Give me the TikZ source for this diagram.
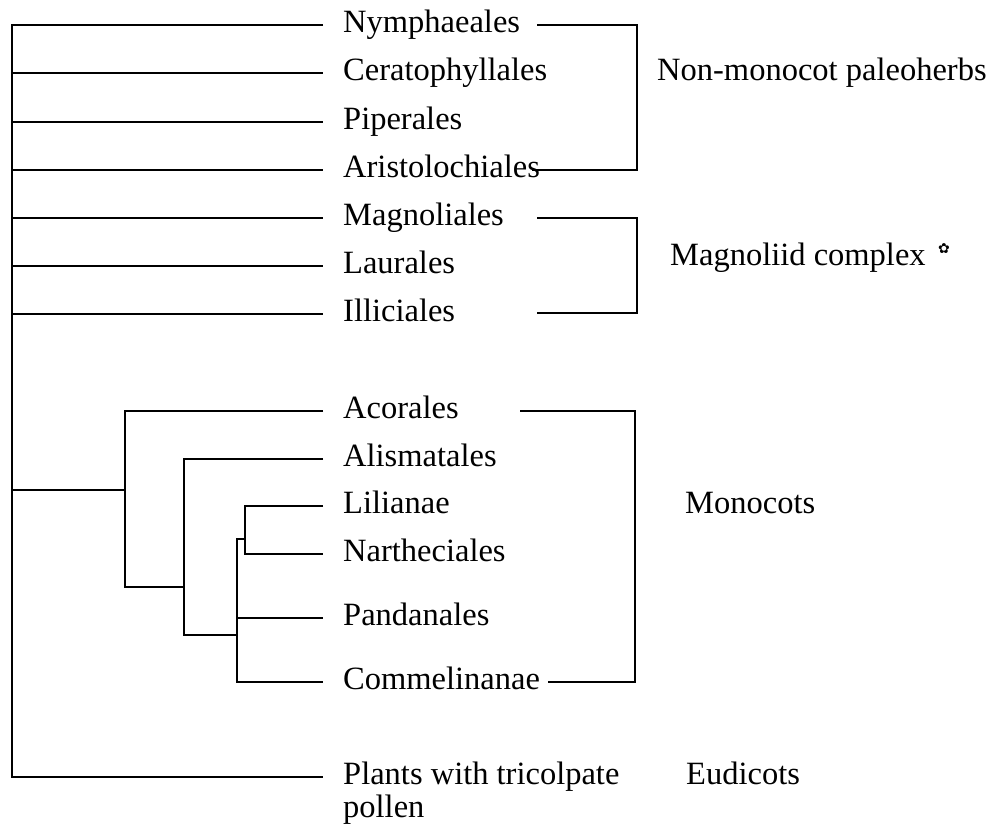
\documentclass[tikz,border=0pt]{standalone}
\usepackage{fontspec}
\setmainfont{Liberation Serif}
\newfontfamily\symfont{DejaVu Sans}
\begin{document}
\begin{tikzpicture}[x=1pt,y=-1pt,
  branch/.style={line width=2.8pt, line join=miter},
  taxon/.style={anchor=base west, inner sep=0pt, font=\fontsize{32.5}{36}\selectfont},
  grouplabel/.style={anchor=base west, inner sep=0pt, font=\fontsize{32.5}{36}\selectfont},
  tip/.style={shift={(-20pt,7pt)}}]
\useasboundingbox (0,0) rectangle (995,828);
% taxon labels (baselines 7px below their branch)
\node[taxon] (nym) at (343,32)  {Nymphaeales};
\node[taxon] (cer) at (343,80)  {Ceratophyllales};
\node[taxon] (pip) at (343,129) {Piperales};
\node[taxon] (ari) at (343,177) {Aristolochiales};
\node[taxon] (mgl) at (343,225) {Magnoliales};
\node[taxon] (lau) at (343,273) {Laurales};
\node[taxon] (ill) at (343,321) {Illiciales};
\node[taxon] (aco) at (343,418) {Acorales};
\node[taxon] (ali) at (343,466) {Alismatales};
\node[taxon] (lil) at (343,513) {Lilianae};
\node[taxon] (nar) at (343,561) {Nartheciales};
\node[taxon] (pan) at (343,625) {Pandanales};
\node[taxon] (com) at (343,689) {Commelinanae};
\node[taxon] (pla) at (343,784) {Plants with tricolpate};
\node[taxon] (pol) at ([yshift=-33pt]pla.base west) {pollen};
% group labels
\node[grouplabel] (nmp) at (657,80)  {Non-monocot paleoherbs};
\node[grouplabel] (mag) at (670,265) {Magnoliid complex};
\node[inner sep=0pt, font=\symfont\fontsize{14}{14}\selectfont] (ast) at (944,249) {✿};
\node[grouplabel] (mon) at (685,513) {Monocots};
\node[grouplabel] (eud) at (686,784) {Eudicots};
% tree coordinates
\coordinate (sp) at (12,25);
\coordinate (mroot) at (125,490);
\coordinate (m2) at (125,587);
\coordinate (m3) at (184,587);
\coordinate (a2) at (184,635);
\coordinate (a3) at (237,635);
\coordinate (c1) at (237,539);
\coordinate (c2) at (245,539);
% main spine and basal leaves
\draw[branch] ([tip]nym.base west) -- (sp) -- (12,777) -- ([tip]pla.base west);
\foreach \n in {cer,pip,ari,mgl,lau,ill}
  \draw[branch] (sp) |- ([tip]\n.base west);
% monocot clade
\draw[branch] (sp) |- (mroot);
\draw[branch] ([tip]aco.base west) -| (m2) -- (m3);
\draw[branch] ([tip]ali.base west) -| (a2) -- (a3);
\draw[branch] ([tip]lil.base west) -- (245,506) -- (245,554) -- ([tip]nar.base west);
\draw[branch] (c2) -- (c1) -- (237,682) -- ([tip]com.base west);
\draw[branch] (237,618) -- ([tip]pan.base west);
% brackets
\draw[branch] (537,25) -- (637,25) -- (637,170) -- (532,170);
\draw[branch] (537,218) -- (637,218) -- (637,313) -- (537,313);
\draw[branch] (520,411) -- (635,411) -- (635,682) -- (548,682);
\end{tikzpicture}
\end{document}
